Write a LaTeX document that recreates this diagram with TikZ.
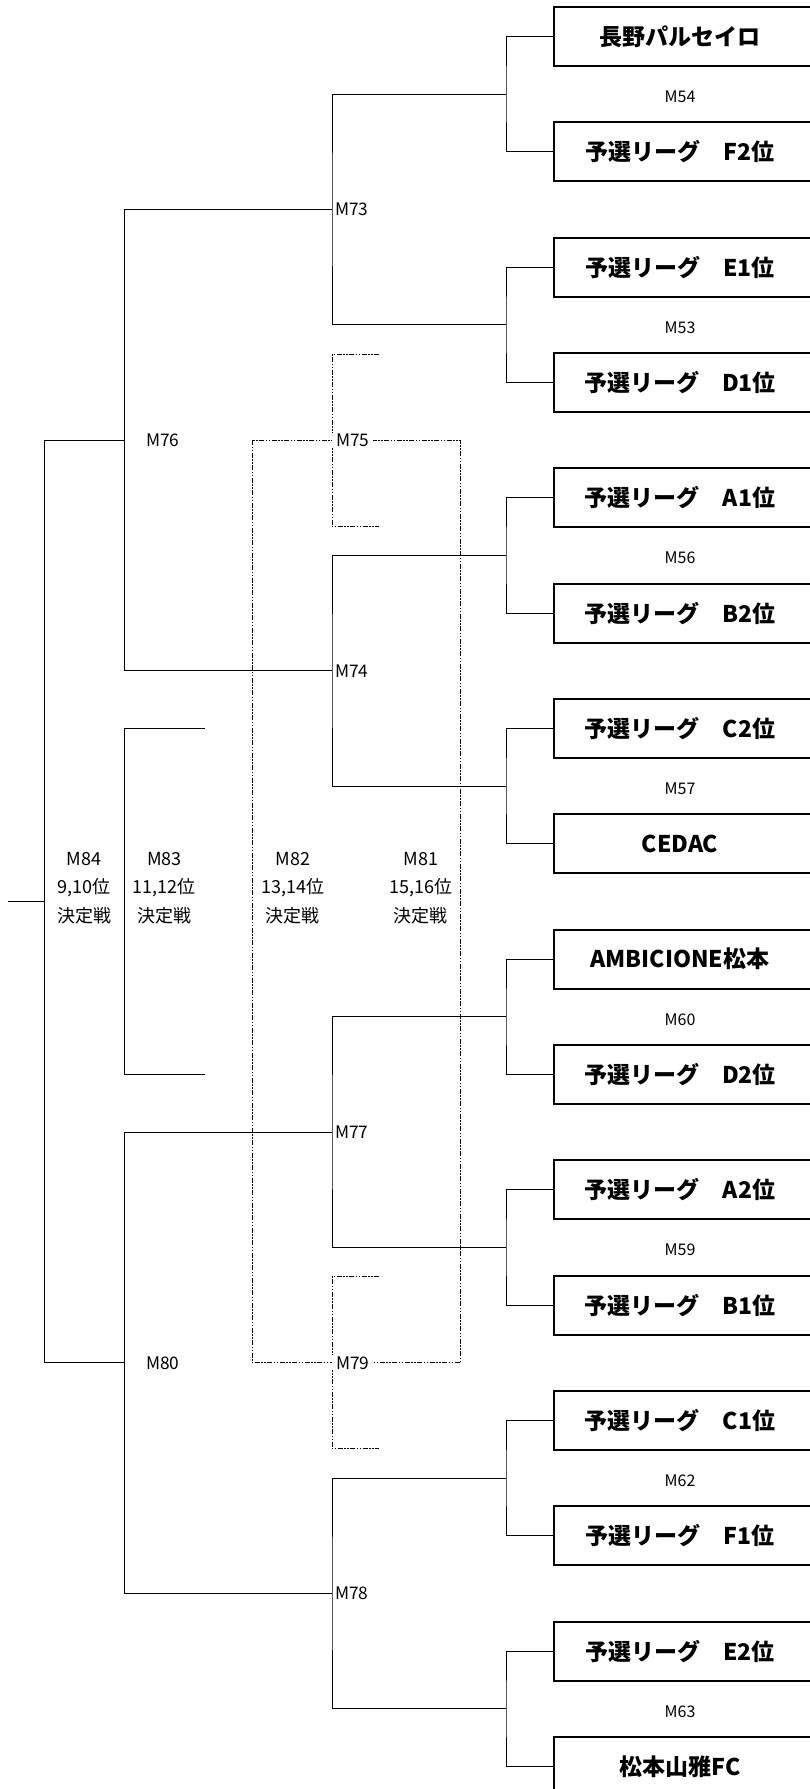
\documentclass[tikz,border=0pt]{standalone}
\usepackage{fontspec}
\setmainfont{Noto Sans CJK JP}
\tikzset{
  thinline/.style={line width=1pt, black},
  ddline/.style={line width=1pt, black, dash pattern=on 5pt off 1.5pt on 1.5pt off 1.5pt on 1.5pt off 1.5pt},
  teambox/.style={draw, line width=2pt, minimum width=300pt, minimum height=59pt, inner sep=0pt, anchor=west},
  teamtext/.style={font=\fontsize{23}{26}\selectfont\bfseries, inner sep=0pt},
  pairlab/.style={font=\fontsize{16}{19}\selectfont, inner sep=0pt},
  rlab/.style={font=\fontsize{17.3}{20}\selectfont, anchor=west, inner xsep=3pt, inner ysep=1pt},
  blocklab/.style={font=\fontsize{18}{28.7}\selectfont, align=center, inner sep=0pt}
}
\begin{document}
\begin{tikzpicture}[x=1pt,y=-1pt]
\useasboundingbox (0,0) rectangle (810,1789);
\clip (0,0) rectangle (810,1789);

% team boxes
\foreach \i/\t in {0/長野パルセイロ, 1/予選リーグ　F2位, 2/予選リーグ　E1位, 3/予選リーグ　D1位,
                   4/予選リーグ　A1位, 5/予選リーグ　B2位, 6/予選リーグ　C2位, 7/CEDAC,
                   8/AMBICIONE松本, 9/予選リーグ　D2位, 10/予選リーグ　A2位, 11/予選リーグ　B1位,
                   12/予選リーグ　C1位, 13/予選リーグ　F1位, 14/予選リーグ　E2位, 15/松本山雅FC} {
  \pgfmathsetmacro\cy{36.5+115.3333*\i}
  \node[teambox] (b\i) at (553,\cy) {};
  \node[teamtext] (t\i) at (680,\cy) {\t};
}

% first round pairs
\foreach \k/\lab in {0/M54, 1/M53, 2/M56, 3/M57, 4/M60, 5/M59, 6/M62, 7/M63} {
  \pgfmathtruncatemacro\a{2*\k}
  \pgfmathtruncatemacro\b{2*\k+1}
  \pgfmathsetmacro\my{94.1667+230.6667*\k}
  \coordinate (j\k) at (506,\my);
  \draw[thinline] (b\a.west) -| (j\k) |- (b\b.west);
  \node[pairlab] (pl\k) at (680,\my+2.5) {\lab};
}

% dashed brackets (M81, M82, M75, M79)
\coordinate (d1) at (252.3,440.17);
\coordinate (d2) at (460.7,1362.83);
\draw[ddline] (d1) rectangle (d2);
\coordinate (s75) at (332,440.17);
\coordinate (s75a) at (379.3,354.5);
\coordinate (s75b) at (379.3,526.5);
\draw[ddline] (s75a) -| (s75) |- (s75b);
\coordinate (s79) at (332,1362.83);
\coordinate (s79a) at (379.3,1276.5);
\coordinate (s79b) at (379.3,1448.5);
\draw[ddline] (s79a) -| (s79) |- (s79b);

% second round
\foreach \k/\lab in {0/M73, 1/M74, 2/M77, 3/M78} {
  \pgfmathtruncatemacro\a{2*\k}
  \pgfmathtruncatemacro\b{2*\k+1}
  \pgfmathsetmacro\ry{209.5+461.3333*\k}
  \coordinate (r\k) at (332,\ry);
  \draw[thinline] (j\a) -| (r\k) |- (j\b);
  \node[rlab] (rl\k) at (r\k) {\lab};
}

% third round
\coordinate (q0) at (124.3,440.17);
\coordinate (q1) at (124.3,1362.83);
\draw[thinline] (r0) -| (q0) |- (r1);
\draw[thinline] (r2) -| (q1) |- (r3);
\node[rlab, inner xsep=0pt] (m76) at (146,440.17) {M76};
\node[rlab, inner xsep=0pt] (m80) at (146,1362.83) {M80};

% M75 / M79 labels on white
\node[rlab, fill=white, inner xsep=4pt] (m75) at (s75) {M75};
\node[rlab, fill=white, inner xsep=4pt] (m79) at (s79) {M79};

% final
\coordinate (f) at (44.3,901.5);
\coordinate (fend) at (8.3,901.5);
\draw[thinline] (q0) -| (f) |- (q1);
\draw[thinline] (f) -- (fend);

% M83 bracket
\coordinate (m83a) at (204.7,728.5);
\coordinate (m83b) at (204.7,1074.5);
\coordinate (m83c) at (124.3,901.5);
\draw[thinline] (m83a) -| (m83c) |- (m83b);

% block labels
\node[blocklab] (l84) at (84,888) {M84\\9,10位\\決定戦};
\node[blocklab] (l83) at (164.3,888) {M83\\11,12位\\決定戦};
\node[blocklab] (l82) at (292.7,888) {M82\\13,14位\\決定戦};
\node[blocklab] (l81) at (420.7,888) {M81\\15,16位\\決定戦};
\end{tikzpicture}
\end{document}
